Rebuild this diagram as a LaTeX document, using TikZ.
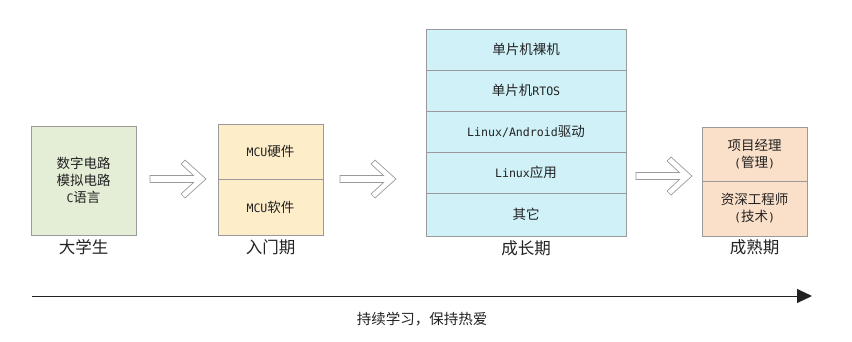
\documentclass[tikz,border=0pt]{standalone}
\usepackage{fontspec}
\setmainfont{Noto Sans CJK SC}
\newfontfamily\monofont{DejaVu Sans Mono}
\usetikzlibrary{arrows.meta,positioning}
\definecolor{ink}{HTML}{222222}
\definecolor{edge}{HTML}{9A9A9A}
\definecolor{stugreen}{HTML}{E4EDD6}
\definecolor{entryyellow}{HTML}{FDEDC9}
\definecolor{growcyan}{HTML}{CFF1F7}
\definecolor{maturepeach}{HTML}{FADFC9}
\newcommand{\en}[1]{{\monofont\fontsize{11.6}{14}\selectfont #1}}

\begin{document}
\begin{tikzpicture}[x=1pt,y=-1pt,every node/.style={text=ink,font=\fontsize{13.5}{17}\selectfont},
  cell/.style={draw=edge,line width=.6pt,inner sep=0pt,outer sep=0pt,align=center},
  stage/.style={font=\fontsize{16.5}{19}\selectfont},
  hollow/.style={draw=edge,fill=white,line width=.7pt,line join=miter}]
\useasboundingbox (0,0) rectangle (852,341);
% stages
\node[cell,fill=stugreen,minimum width=105pt,minimum height=109pt] (stu) at (83.5,180.5) {数字电路\\模拟电路\\\en{C}语言};
\node[cell,fill=entryyellow,minimum width=105pt,minimum height=55pt] (intro1) at (270.5,151.5) {\en{MCU}硬件};
\node[cell,fill=entryyellow,minimum width=105pt,minimum height=56pt,below=0pt of intro1] (intro2) {\en{MCU}软件};
\node[cell,fill=growcyan,minimum width=200pt,minimum height=41pt] (grow1) at (526,49.5) {单片机裸机};
\node[cell,fill=growcyan,minimum width=200pt,minimum height=41pt,below=0pt of grow1] (grow2) {单片机\en{RTOS}};
\node[cell,fill=growcyan,minimum width=200pt,minimum height=41pt,below=0pt of grow2] (grow3) {\en{Linux/Android}驱动};
\node[cell,fill=growcyan,minimum width=200pt,minimum height=41pt,below=0pt of grow3] (grow4) {\en{Linux}应用};
\node[cell,fill=growcyan,minimum width=200pt,minimum height=43pt,below=0pt of grow4] (grow5) {其它};
\node[cell,fill=maturepeach,minimum width=105pt,minimum height=54pt] (ma1) at (754.5,154) {项目经理\\\en{(}管理\en{)}};
\node[cell,fill=maturepeach,minimum width=105pt,minimum height=55pt,below=0pt of ma1] (ma2) {资深工程师\\\en{(}技术\en{)}};
% stage names
\node[stage] (lstu) at (83.5,247) {大学生};
\node[stage] (lintro) at (270.5,247) {入门期};
\node[stage] (lgrow) at (526,248) {成长期};
\node[stage] (lma) at (754.5,247) {成熟期};
% hollow arrows
\foreach \x/\y in {150/179,340/179,636/176}{
  \draw[hollow,shift={(\x,\y)}] (0,-3.5)--(43.5,-3.5)--(31,-15)--(35,-19)--(56,0)--(35,19)--(31,15)--(43.5,3.5)--(0,3.5)--cycle;
}
% time line
\coordinate (t0) at (32,296);
\coordinate (t1) at (812,296);
\draw[ink,line width=1pt,-{Triangle[length=15pt,width=14pt]}] (t0)--(t1);
\node[font=\fontsize{14.5}{17}\selectfont] (motto) at (422,319) {持续学习，保持热爱};
\end{tikzpicture}
\end{document}
